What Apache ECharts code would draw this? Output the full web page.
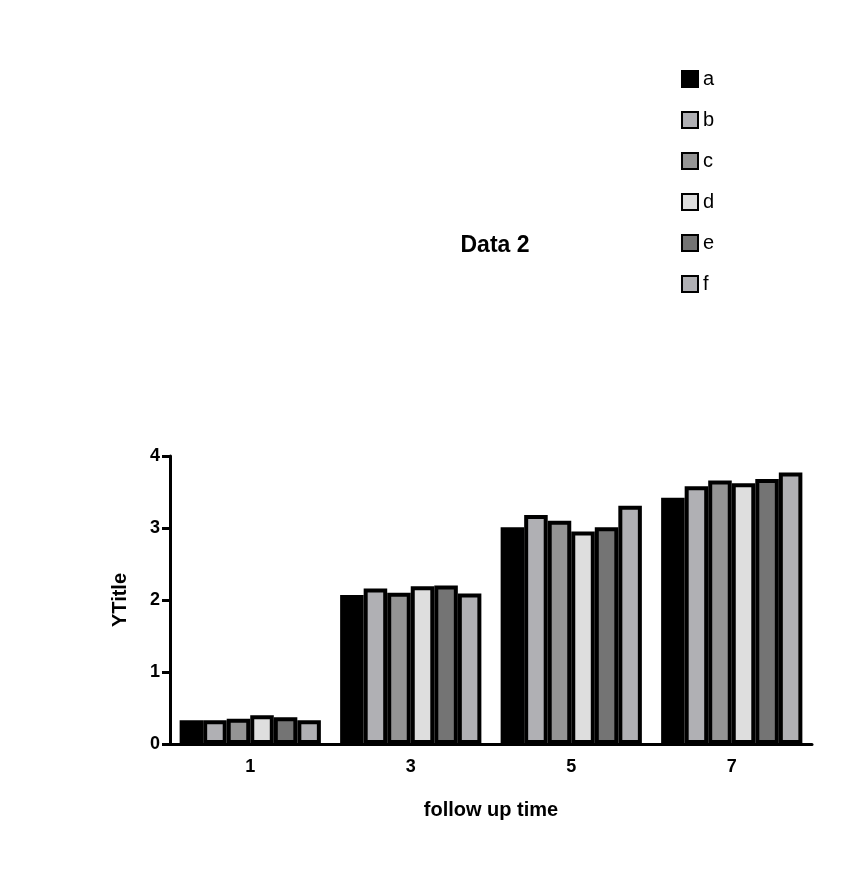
<!DOCTYPE html><html><head><meta charset="utf-8"><script src="https://cdn.jsdelivr.net/npm/echarts@6/dist/echarts.min.js"></script></head><body style="margin:0"><div id="c" style="width:868px;height:894px"></div><script>
const categories=['1','3','5','7'];
const names=['a','b','c','d','e','f'];
const colors=['#000000','#b0b0b4','#949494','#dedede','#747474','#b0b0b4'];
const values=[[0.33,2.07,3.01,3.42],[0.33,2.16,3.18,3.58],[0.35,2.10,3.10,3.66],[0.40,2.19,2.95,3.62],[0.37,2.20,3.01,3.68],[0.33,2.09,3.31,3.77]];
const F='Liberation Sans, Arial, sans-serif';
const c=echarts.init(document.getElementById('c'));
c.setOption({animation:false,
title:{text:'Data 2',left:490,top:229,textAlign:'center',textStyle:{fontFamily:F,fontSize:23,fontWeight:'bold',color:'#000'}},
legend:{orient:'vertical',left:676,top:64,itemGap:21,itemWidth:16,itemHeight:16,icon:'rect',textStyle:{fontFamily:F,fontSize:20,color:'#000'},data:names},
grid:{left:170,right:56,top:456,bottom:150},
xAxis:{type:'category',data:categories,name:'follow up time',nameLocation:'middle',nameGap:56,nameTextStyle:{fontFamily:F,fontSize:20,fontWeight:'bold',color:'#000'},
axisLine:{lineStyle:{color:'#000',width:3}},axisTick:{alignWithLabel:true,length:10,lineStyle:{width:3,color:'#000'},interval:0},
axisLabel:{fontFamily:F,fontSize:18,fontWeight:'bold',color:'#000',margin:14}},
yAxis:{type:'value',min:0,max:4,interval:1,name:'YTitle',nameLocation:'middle',nameGap:40,nameTextStyle:{fontFamily:F,fontSize:20,fontWeight:'bold',color:'#000'},
splitLine:{show:false},axisLine:{show:true,lineStyle:{color:'#000',width:3}},axisTick:{show:true,length:8,lineStyle:{width:3,color:'#000'}},
axisLabel:{fontFamily:F,fontSize:18,fontWeight:'bold',color:'#000',margin:10}},
series:names.map((n,i)=>({name:n,type:'bar',data:values[i],barGap:'0%',barCategoryGap:'12%',
itemStyle:{color:colors[i],borderColor:'#000',borderWidth:4}}))
});
</script></body></html>
